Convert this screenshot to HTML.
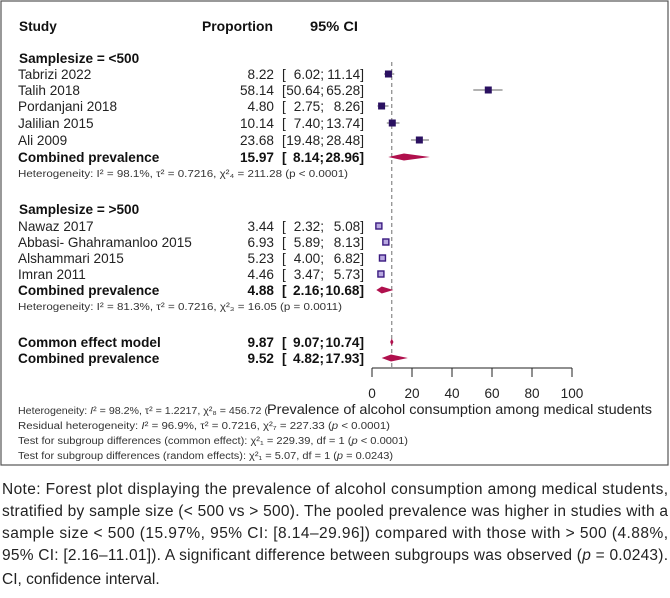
<!DOCTYPE html>
<html><head><meta charset="utf-8"><style>
html,body{margin:0;padding:0;background:#fff;width:670px;height:598px;overflow:hidden}
svg{display:block}
.t{font-family:"Liberation Sans",Arial,sans-serif;font-size:13.6px;fill:#222}
.b{font-weight:bold;fill:#111}
.s{font-family:"Liberation Sans",Arial,sans-serif;font-size:10px;fill:#333}
.c{font-family:"Liberation Sans",sans-serif;font-size:15.5px;fill:#222}
</style></head><body>
<svg id="chart" width="670" height="598">
<rect x="1" y="1" width="667" height="464" fill="#fff" stroke="#555" stroke-width="1.2"/>
<g id="hdr">
<text class="t b" x="19" y="31">Study</text>
<text class="t b" x="202" y="31" textLength="71" lengthAdjust="spacingAndGlyphs">Proportion</text>
<text class="t b" x="310" y="31" textLength="48" lengthAdjust="spacingAndGlyphs">95% CI</text>
</g>
<g id="rows"></g>
<g id="axis"></g>
<g>
<text class="s" x="18" y="414" textLength="250" lengthAdjust="spacingAndGlyphs">Heterogeneity: <tspan font-style="italic">I</tspan>² = 98.2%, τ² = 1.2217, χ²₈ = 456.72 (</text>
<text class="t" x="267" y="414" font-size="13.5" textLength="385" lengthAdjust="spacingAndGlyphs">Prevalence of alcohol consumption among medical students</text>
<text class="s" x="18" y="429" textLength="372" lengthAdjust="spacingAndGlyphs">Residual heterogeneity: <tspan font-style="italic">I</tspan>² = 96.9%, τ² = 0.7216, χ²₇ = 227.33 (<tspan font-style="italic">p</tspan> &lt; 0.0001)</text>
<text class="s" x="18" y="444" textLength="390" lengthAdjust="spacingAndGlyphs">Test for subgroup differences (common effect): χ²₁ = 229.39, df = 1 (<tspan font-style="italic">p</tspan> &lt; 0.0001)</text>
<text class="s" x="18" y="459" textLength="375" lengthAdjust="spacingAndGlyphs">Test for subgroup differences (random effects): χ²₁ = 5.07, df = 1 (<tspan font-style="italic">p</tspan> = 0.0243)</text>
</g>
<g>
<text class="c" x="2" y="494" textLength="666">Note: Forest plot displaying the prevalence of alcohol consumption among medical students,</text>
<text class="c" x="2" y="516" textLength="666">stratified by sample size (&lt; 500 vs &gt; 500). The pooled prevalence was higher in studies with a</text>
<text class="c" x="2" y="538" textLength="666">sample size &lt; 500 (15.97%, 95% CI: [8.14–29.96]) compared with those with &gt; 500 (4.88%,</text>
<text class="c" x="2" y="560" textLength="666">95% CI: [2.16–11.01]). A significant difference between subgroups was observed (<tspan font-style="italic">p</tspan> = 0.0243).</text>
<text class="c" x="2" y="584">CI, confidence interval.</text>
</g>
</svg>
<script>
const studies=["Tabrizi 2022","Talih 2018","Pordanjani 2018","Jalilian 2015","Ali  2009","Nawaz 2017","Abbasi- Ghahramanloo 2015","Alshammari 2015","Imran 2011"];
const est=[8.22,58.14,4.80,10.14,23.68,3.44,6.93,5.23,4.46];
const lo=[6.02,50.64,2.75,7.40,19.48,2.32,5.89,4.00,3.47];
const hi=[11.14,65.28,8.26,13.74,28.48,5.08,8.13,6.82,5.73];
const group=[1,1,1,1,1,2,2,2,2];
const pooledNames=["Combined prevalence","Combined prevalence","Common effect model","Combined prevalence"];
const pooledEst=[15.97,4.88,9.87,9.52];
const pooledLo=[8.14,2.16,9.07,4.82];
const pooledHi=[28.96,10.68,10.74,17.93];
const ticks=[0,20,40,60,80,100];
const commonLine=9.87;
const NS="http://www.w3.org/2000/svg";
const X=v=>372+v*2;
const rowY=[74,90,106,123,140,226,242,258,274];
const pooledY=[157,290,342,358];
function mk(tag,attrs,parent,text){const e=document.createElementNS(NS,tag);for(const k in attrs)e.setAttribute(k,attrs[k]);if(text!==undefined)e.textContent=text;parent.appendChild(e);return e;}
const rows=document.getElementById('rows');
const f=v=>v.toFixed(2);
function ciText(g,cls,y,a,b){
  mk('text',{class:cls,x:282,y:y},g,'[');
  mk('text',{class:cls,x:324,y:y,'text-anchor':'end'},g,f(a)+';');
  mk('text',{class:cls,x:364,y:y,'text-anchor':'end'},g,f(b)+']');
}
let dl=mk('line',{x1:X(commonLine),x2:X(commonLine),y1:62,y2:368,stroke:'#888','stroke-dasharray':'4,3','stroke-width':1.2},rows);


let g1=mk('text',{class:'t b',x:19,y:63},rows,'Samplesize = <500');


let g2=mk('text',{class:'t b',x:19,y:214},rows,'Samplesize = >500');


let h1=mk('text',{class:'s',x:18,y:177,textLength:330,lengthAdjust:'spacingAndGlyphs'},rows,'Heterogeneity: I² = 98.1%, τ² = 0.7216, χ²₄ = 211.28 (p < 0.0001)');


let h2=mk('text',{class:'s',x:18,y:310,textLength:324,lengthAdjust:'spacingAndGlyphs'},rows,'Heterogeneity: I² = 81.3%, τ² = 0.7216, χ²₃ = 16.05 (p = 0.0011)');


studies.forEach((s,i)=>{
  const y=rowY[i];
  const g=mk('g',{},rows);
  
  
  mk('text',{class:'t',x:18,y:y+5},g,s);
  mk('text',{class:'t',x:274,y:y+5,'text-anchor':'end'},g,f(est[i]));
  ciText(g,'t',y+5,lo[i],hi[i]);
  mk('line',{x1:X(lo[i]),x2:X(hi[i]),y1:y,y2:y,stroke:'#999','stroke-width':1.5},g);
  const sz=group[i]==1?7:6;
  const r=mk('rect',{x:X(est[i])-sz/2,y:y-sz/2,width:sz,height:sz,fill:group[i]==1?'#2a1060':'#b8a8e0',stroke:'#3a1a80','stroke-width':group[i]==1?0:1.4},g);
  
  
});
pooledNames.forEach((n,i)=>{
  const y=pooledY[i];
  const g=mk('g',{},rows);
  
  
  mk('text',{class:'t b',x:18,y:y+5},g,n);
  mk('text',{class:'t b',x:274,y:y+5,'text-anchor':'end'},g,f(pooledEst[i]));
  ciText(g,'t b',y+5,pooledLo[i],pooledHi[i]);
  const d=mk('polygon',{points:`${X(pooledLo[i])},${y} ${X(pooledEst[i])},${y-3.5} ${X(pooledHi[i])},${y} ${X(pooledEst[i])},${y+3.5}`,fill:'#b0104d'},g);
  
  
});
const ax=document.getElementById('axis');
mk('line',{x1:X(ticks[0]),x2:X(ticks[ticks.length-1]),y1:368,y2:368,stroke:'#222','stroke-width':1},ax);
ticks.forEach(t=>{
  mk('line',{x1:X(t),x2:X(t),y1:368,y2:377,stroke:'#222','stroke-width':1},ax);
  const l=mk('text',{class:'t',x:X(t),y:398,'text-anchor':'middle'},ax,String(t));
  
  
});
</script>
</body></html>
